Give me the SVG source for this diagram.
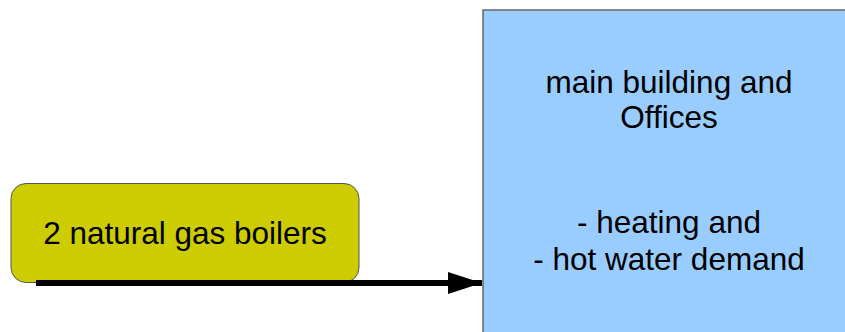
<svg xmlns="http://www.w3.org/2000/svg" width="845" height="332" viewBox="0 0 845 332">
<defs>
<style>
.lbl{font-family:"Liberation Sans",Arial,sans-serif;font-size:31.5px;fill:#000;text-anchor:middle}
.conn{stroke:#000;stroke-width:6;fill:none}
</style>
<marker id="ah" markerUnits="userSpaceOnUse" markerWidth="36" markerHeight="24" refX="34" refY="11" orient="auto">
<polygon points="0,0 34,11 0,22" fill="#000"/>
</marker>
</defs>
<rect width="845" height="332" fill="#fff"/>
<g id="building">
<rect x="483" y="10" width="380" height="340" fill="#99ccff" stroke="#666" stroke-width="1.5"/>
<text class="lbl" x="669" y="93">main building and</text>
<text class="lbl" x="669" y="128">Offices</text>
<text class="lbl" x="669" y="233">- heating and</text>
<text class="lbl" x="669" y="270">- hot water demand</text>
</g>
<g id="boilers">
<rect x="11" y="183.5" width="348" height="99" rx="15" ry="15" fill="#cccc00" stroke="#555" stroke-width="1"/>
<text class="lbl" x="185" y="244">2 natural gas boilers</text>
</g>
<g id="connectors">
<line class="conn" x1="36" y1="283" x2="482" y2="283" marker-end="url(#ah)"/>
</g>
</svg>
